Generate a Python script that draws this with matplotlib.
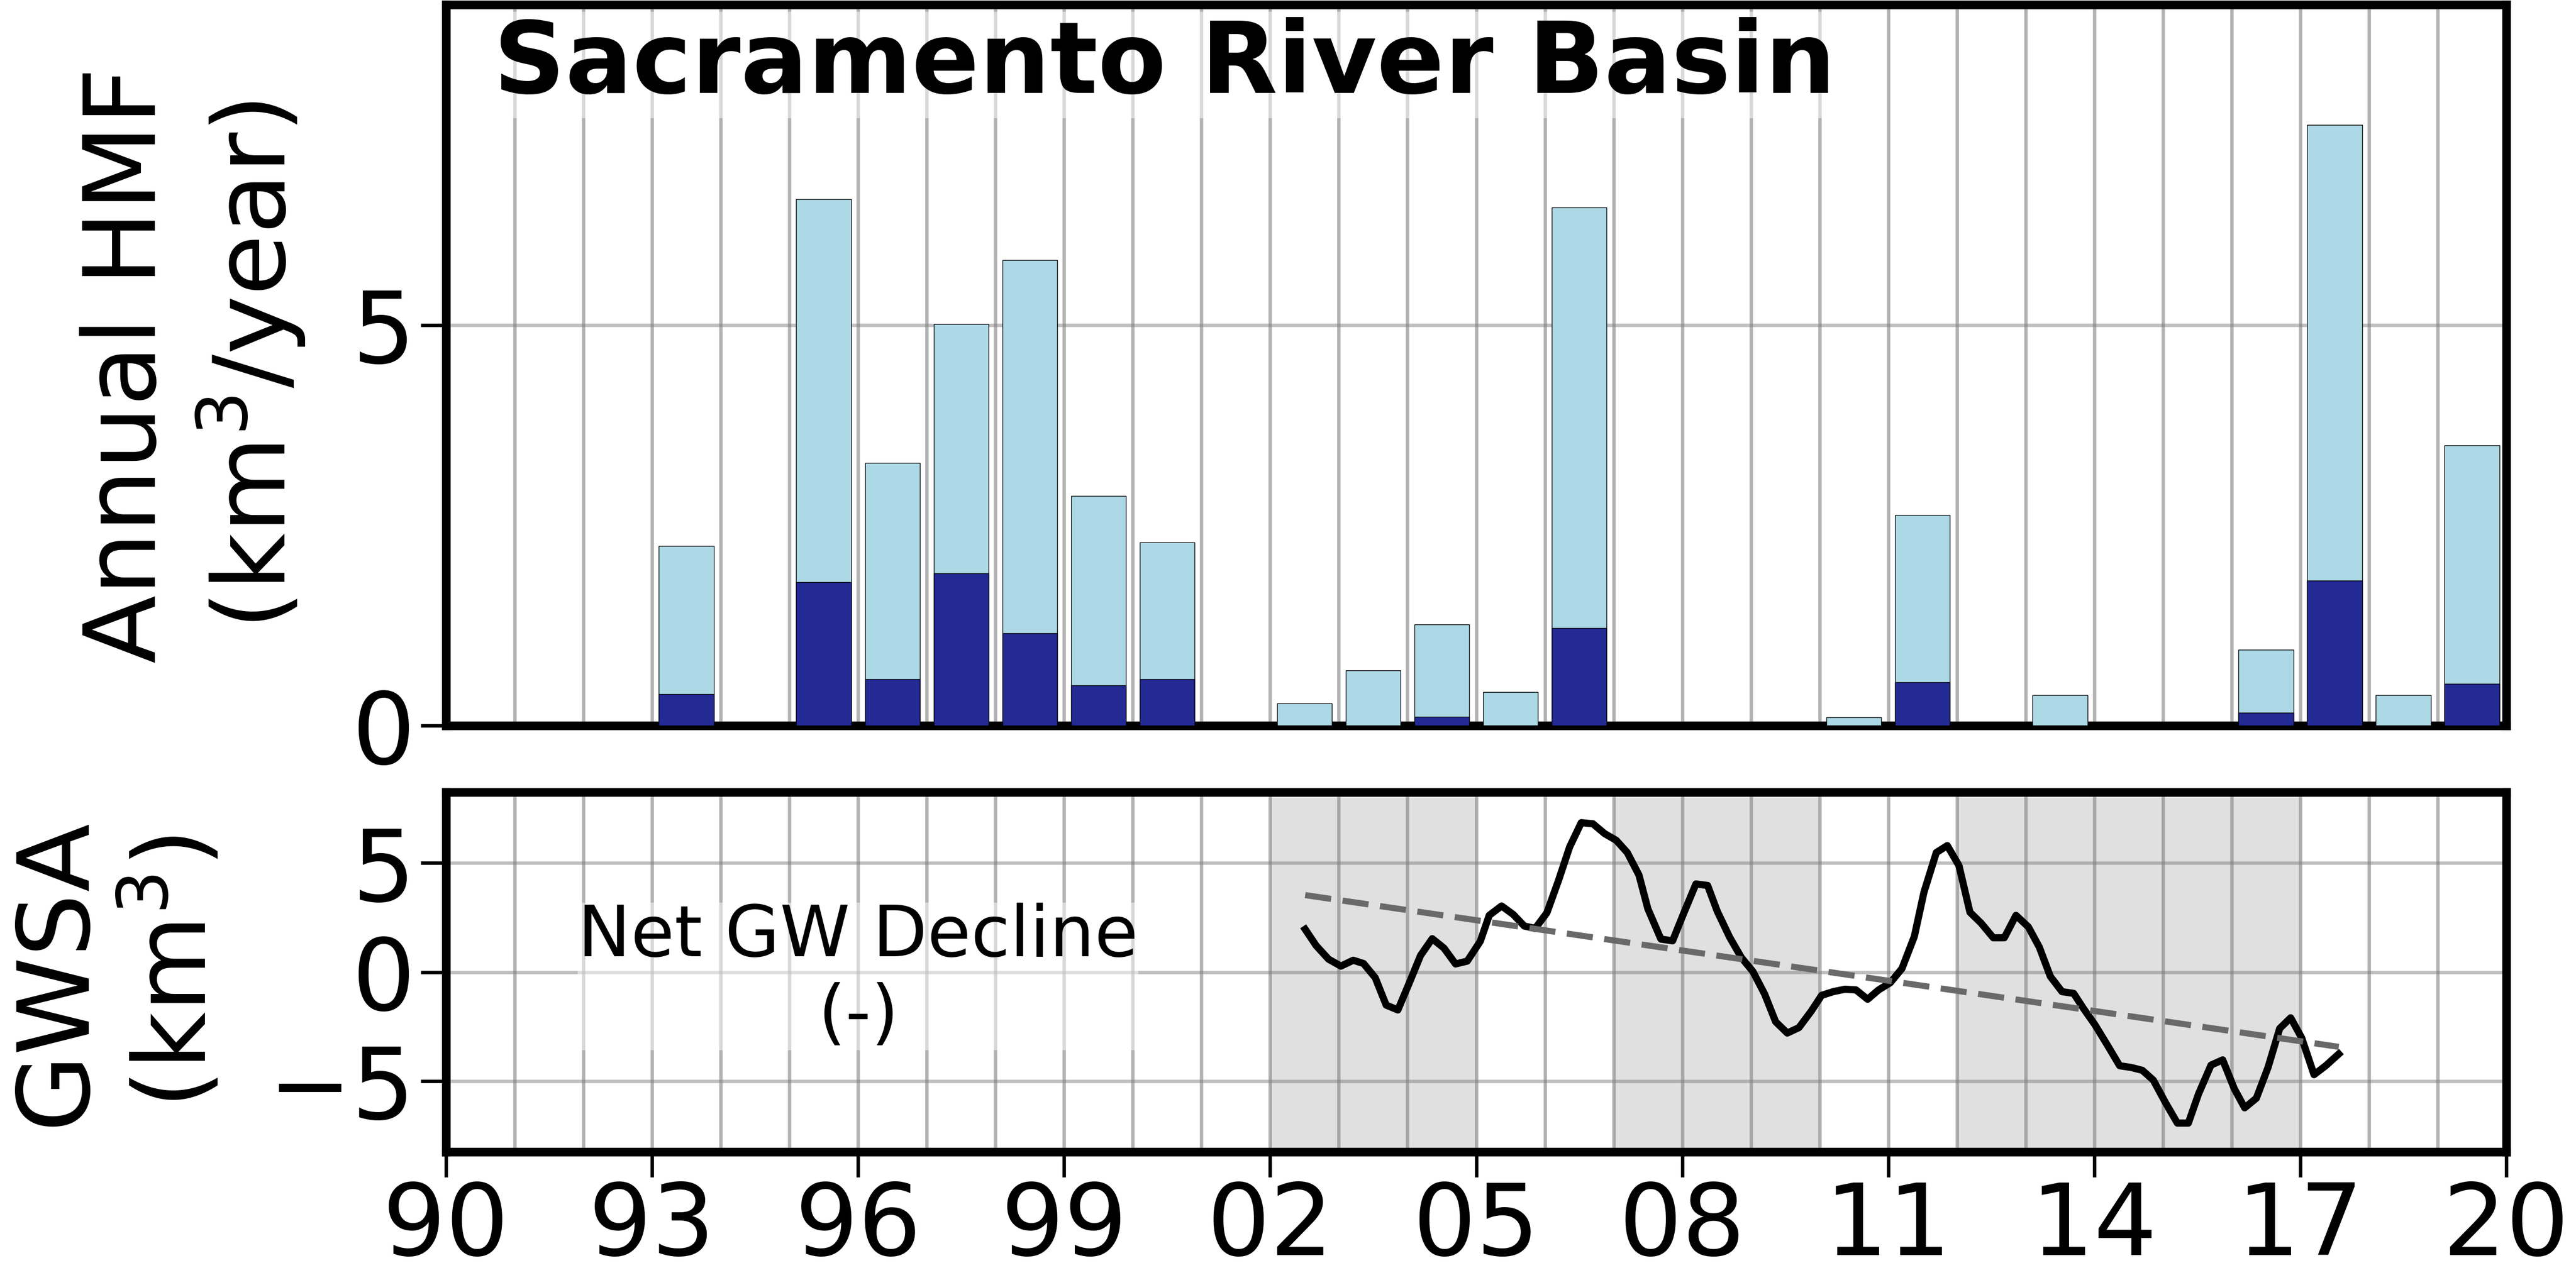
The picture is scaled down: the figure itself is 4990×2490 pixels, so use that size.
import numpy as np
import matplotlib
matplotlib.use("Agg")
import matplotlib.pyplot as plt

# annual HMF per water year (km3/yr): total (light) and dark portion
years = [1993, 1995, 1996, 1997, 1998, 1999, 2000, 2002, 2003, 2004, 2005, 2006,
         2010, 2011, 2013, 2016, 2017, 2018, 2019]
hmf_total = [2.24, 6.57, 3.28, 5.01, 5.81, 2.87, 2.29, 0.28, 0.69, 1.26, 0.42, 6.47,
             0.10, 2.63, 0.38, 0.95, 7.50, 0.38, 3.50]
hmf_part = [0.39, 1.79, 0.58, 1.90, 1.15, 0.50, 0.58, 0.0, 0.0, 0.11, 0.0, 1.22,
            0.0, 0.54, 0.0, 0.16, 1.81, 0.0, 0.52]

# GRACE groundwater storage anomaly (km3)
gw_t = [2002.51, 2002.67, 2002.85, 2003.03, 2003.21, 2003.36, 2003.53, 2003.69, 2003.86,
        2004.03, 2004.19, 2004.36, 2004.53, 2004.70, 2004.87, 2005.06, 2005.19, 2005.37,
        2005.54, 2005.70, 2005.86, 2006.03, 2006.20, 2006.36, 2006.53, 2006.70, 2006.87,
        2007.04, 2007.20, 2007.37, 2007.50, 2007.69, 2007.86, 2008.02, 2008.20, 2008.37,
        2008.51, 2008.69, 2008.86, 2009.03, 2009.20, 2009.36, 2009.53, 2009.70, 2009.88,
        2010.03, 2010.20, 2010.37, 2010.53, 2010.70, 2010.86, 2011.03, 2011.20, 2011.38,
        2011.52, 2011.70, 2011.86, 2012.03, 2012.19, 2012.35, 2012.53, 2012.69, 2012.86,
        2013.04, 2013.20, 2013.36, 2013.53, 2013.70, 2013.84, 2014.01, 2014.20, 2014.37,
        2014.54, 2014.70, 2014.86, 2015.04, 2015.21, 2015.37, 2015.52, 2015.70, 2015.87,
        2016.04, 2016.19, 2016.36, 2016.53, 2016.70, 2016.86, 2017.02, 2017.20, 2017.37,
        2017.56]
gwsa = [1.96, 1.21, 0.59, 0.27, 0.54, 0.39, -0.26, -1.52, -1.74,
        -0.47, 0.76, 1.53, 1.10, 0.37, 0.50, 1.41, 2.60, 3.03,
        2.64, 2.11, 2.00, 2.72, 4.21, 5.73, 6.85, 6.80, 6.35,
        6.04, 5.48, 4.45, 2.90, 1.51, 1.43, 2.68, 4.04, 3.97,
        2.79, 1.60, 0.67, 0.02, -1.01, -2.28, -2.80, -2.55, -1.79,
        -1.07, -0.90, -0.79, -0.82, -1.25, -0.82, -0.49, 0.16, 1.63,
        3.66, 5.48, 5.80, 4.88, 2.74, 2.25, 1.57, 1.57, 2.60,
        2.07, 1.14, -0.20, -0.90, -0.98, -1.66, -2.42, -3.40, -4.30,
        -4.38, -4.51, -4.96, -6.01, -6.93, -6.93, -5.58, -4.27, -4.03,
        -5.36, -6.23, -5.79, -4.38, -2.59, -2.10, -3.02, -4.71, -4.30,
        -3.76]

# drought periods shaded in the lower panel
droughts = [(2002, 2005), (2007, 2010), (2012, 2017)]

LIGHT = "lightblue"
DARK = "#232a94"
FS = 139
SPW = 12

fig = plt.figure(figsize=(49.9, 24.9), dpi=100)
ax1 = fig.add_axes([0.17315, 0.43534, 0.7998, 0.56104])
ax2 = fig.add_axes([0.17315, 0.10361, 0.7998, 0.27992])

xc = np.array(years) + 0.5
ax1.bar(xc, hmf_total, width=0.8, color=LIGHT, edgecolor="black", linewidth=1.0, zorder=3)
ax1.bar(xc, hmf_part, width=0.8, color=DARK, edgecolor="black", linewidth=1.0, zorder=4)
ax1.set_ylim(0, 9)
ax1.set_yticks([0, 5])
ax1.text(0.023, 0.983, "Sacramento River Basin", transform=ax1.transAxes, fontsize=FS,
         fontweight="bold", ha="left", va="top", zorder=6,
         bbox=dict(boxstyle="square,pad=0.05", facecolor="white", edgecolor="none", alpha=0.5))
ax1.set_ylabel("Annual HMF\n(km$^3$/year)", fontsize=FS)
ax1.yaxis.set_label_coords(-0.0672, 0.5)

for a, b in droughts:
    ax2.axvspan(a, b, color="#e0e0e0", zorder=0, lw=0)
ax2.plot(gw_t, gwsa, color="black", lw=10, zorder=4)
k, c = np.polyfit(gw_t, gwsa, 1)
tt = np.array([gw_t[0], gw_t[-1]])
ax2.plot(tt, k * tt + c, color="dimgray", lw=8.5, dashes=(4.3, 1.9), zorder=5)
ax2.text(1996, -0.2, "Net GW Decline\n(-)", fontsize=99, ha="center", va="center", zorder=6,
         bbox=dict(boxstyle="square,pad=0", facecolor="white", edgecolor="none", alpha=0.5))
ax2.set_ylim(-8.25, 8.25)
ax2.set_yticks([-5, 0, 5])
ax2.set_ylabel("GWSA\n(km$^3$)", fontsize=FS)
ax2.yaxis.set_label_coords(-0.1067, 0.5)

for ax in (ax1, ax2):
    ax.set_xlim(1990, 2020)
    ax.set_xticks(range(1990, 2021, 3))
    ax.set_xticks(range(1990, 2021), minor=True)
    ax.grid(which="both", axis="x", color="gray", alpha=0.6, lw=4.7, zorder=1)
    ax.grid(which="major", axis="y", color="gray", alpha=0.5, lw=4.7, zorder=1)
    ax.set_axisbelow(True)
    for s in ax.spines.values():
        s.set_linewidth(SPW)
    ax.tick_params(which="major", direction="out", length=35, width=4.8, labelsize=FS)
    ax.tick_params(axis="y", pad=8)
    ax.tick_params(which="minor", length=0)

ax2.set_xticklabels([f"{y % 100:02d}" for y in range(1990, 2021, 3)])
ax1.tick_params(axis="x", which="both", length=0, labelbottom=False)

fig.savefig("out.png", dpi=100)
